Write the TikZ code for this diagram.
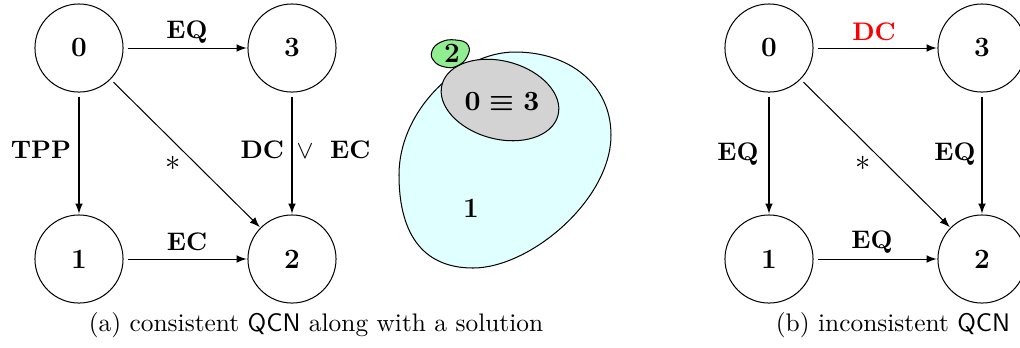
\documentclass[tikz,border=0pt]{standalone}
\usetikzlibrary{arrows}
\definecolor{blobcyan}{RGB}{224,255,255}
\definecolor{blobgray}{RGB}{211,211,211}
\definecolor{blobgreen}{RGB}{144,238,144}
\begin{document}
\begin{tikzpicture}[x=0.394pt,y=-0.394pt,
  st/.style={circle, draw, minimum size=34.7pt, inner sep=0pt, font=\fontsize{11}{13}\selectfont\bfseries},
  rel/.style={-latex, shorten <=1.6pt, shorten >=0.3pt},
  lab/.style={anchor=base, font=\bfseries, inner sep=0pt},
  star/.style={inner sep=0pt, font=\large},
  captext/.style={anchor=base, inner sep=0pt}]
\useasboundingbox (0,0) rectangle (1020,347);
% ---------- (a) ----------
\node[st] (a0) at (79,48) {0};
\node[st] (a3) at (292,48) {3};
\node[st] (a1) at (79,259) {1};
\node[st] (a2) at (292,259) {2};
\draw[rel] (a0) -- (a3);
\draw[rel] (a0) -- (a1);
\draw[rel] (a0) -- (a2);
\draw[rel] (a3) -- (a2);
\draw[rel] (a1) -- (a2);
\node[lab] (la03) at (187,38) {EQ};
\node[lab] (la01) at (41,158) {TPP};
\node[star] (la02) at (173,163) {$*$};
\node[lab, anchor=base west] (la32) at (240,158) {DC\hspace{5pt}$\vee$\hspace{6.5pt}EC};
\node[lab] (la12) at (187,250) {EC};
% ---------- solution ----------
\draw[fill=blobcyan] (515,52) .. controls (570,52) and (611,85) .. (611,135)
  .. controls (611,200) and (530,268) .. (473,268)
  .. controls (420,268) and (399,230) .. (399,175)
  .. controls (399,110) and (460,52) .. (515,52) -- cycle;
\draw[fill=blobgray, rotate around={-15:(500,100)}] (500,100) ellipse [x radius=60, y radius=39];
\draw[fill=blobgreen] plot[smooth cycle, tension=0.8] coordinates {
  (432,51) (441,42) (456,40) (468,45) (467,57) (457,66) (445,67) (434,61)};
\node[font=\fontsize{11}{13}\selectfont\boldmath] (s03) at (502,102) {$\mathbf{0}\equiv\mathbf{3}$};
\node[font=\fontsize{11}{13}\selectfont\bfseries] (s1) at (471,208) {1};
\node[font=\fontsize{11}{13}\selectfont\bfseries, inner sep=0pt] (s2) at (452,53) {2};
% ---------- (b) ----------
\node[st] (b0) at (769,48) {0};
\node[st] (b3) at (982,48) {3};
\node[st] (b1) at (769,259) {1};
\node[st] (b2) at (982,259) {2};
\draw[rel] (b0) -- (b3);
\draw[rel] (b0) -- (b1);
\draw[rel] (b0) -- (b2);
\draw[rel] (b3) -- (b2);
\draw[rel] (b1) -- (b2);
\node[lab, text=red] (lb03) at (874,40) {DC};
\node[lab] (lb01) at (738,160) {EQ};
\node[star] (lb02) at (863,163) {$*$};
\node[lab] (lb32) at (955,160) {EQ};
\node[lab] (lb12) at (872,248) {EQ};
% ---------- captions ----------
\node[captext] (capa) at (316,331) {(a) consistent \textsf{QCN} along with a solution};
\node[captext] (capb) at (893,331) {(b) inconsistent \textsf{QCN}};
\end{tikzpicture}
\end{document}
